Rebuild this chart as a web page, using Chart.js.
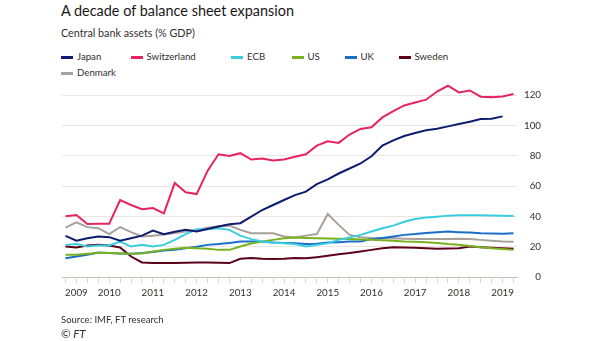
<!DOCTYPE html>
<html>
<head>
<meta charset="utf-8">
<script src="https://cdn.jsdelivr.net/npm/chart.js@4"></script>
<style>
	html, body { margin: 0; padding: 0; background: #fff; }
	body { width: 605px; height: 341px; position: relative; overflow: hidden; font-family: Lato, "Noto Sans", sans-serif; color: #33302e; }
	#wrap { position: absolute; left: 0; top: 0; width: 605px; height: 341px; }
	.txt { position: absolute; white-space: nowrap; line-height: 1; }
	#title { left: 61px; top: 4px; font-size: 16px; color: #1a1817; }
	#sub { left: 61px; top: 28px; font-size: 12px; color: #33302e; }
	.leg { position: absolute; line-height: 1; white-space: nowrap; color: #33302e; }
	.leg i { position: absolute; left: 0; width: 12px; height: 2.5px; }
	.leg span { position: absolute; left: 16px; top: 0; }
	#src { left: 61px; top: 315px; font-size: 11.5px; }
	#cr { left: 61px; top: 328px; font-size: 11.5px; font-style: italic; }
</style>
</head>
<body>
<div class="txt" id="title" data-w="234">A decade of balance sheet expansion</div>
<div class="txt" id="sub" data-w="134">Central bank assets (% GDP)</div>
<div id="legend"></div>
<div id="wrap"><canvas id="chart"></canvas></div>
<div class="txt" id="src" data-w="103">Source: IMF, FT research</div>
<div class="txt" id="cr">© FT</div>
<script>
// quarters from 2009 Q1 to 2019 Q2
var firstYear = 2009;
var quarters = [];
for (var q = 0; q < 42; q++) { quarters.push(q); }

var yTicks = [0, 20, 40, 60, 80, 100, 120];

var names = ['Japan', 'Switzerland', 'ECB', 'US', 'UK', 'Sweden', 'Denmark'];
var colors = ['#0d1c6e', '#e8245f', '#38cde1', '#78b21f', '#1b6fca', '#5c0318', '#a8a09a'];

var japan = [27.1, 23.9, 25.6, 26.7, 26.3, 24, 25.6, 27.3, 30.6, 28.3,
	29.8, 31.1, 30, 31.7, 33.3, 34.8, 35.5, 39.8, 44.2, 47.5,
	50.8, 54, 56.3, 61.3, 64.4, 68.3, 71.6, 74.9, 79.7, 86.7,
	90.2, 93, 95, 96.8, 97.9, 99.4, 100.9, 102.5, 104.2, 104.5, 106, null];
var switzerland = [40.1, 40.9, 35, 35.1, 35.2, 50.8, 47.5, 44.7, 45.5, 42,
	62, 55.9, 54.7, 70, 81, 79.9, 81.7, 77.5, 78.2, 76.9,
	77.5, 79.3, 81, 86.7, 89.6, 88.5, 94, 97.7, 98.8, 105.3,
	109.5, 113.2, 115.2, 117, 122.4, 126.2, 121.8, 123.1, 119, 118.7, 119.1, 120.7];
var ecb = [21.2, 21.7, 20.1, 20.8, 20.8, 23.4, 20.1, 21.2, 20.1, 21.2,
	24.5, 28.3, 31.5, 31.5, 32.2, 31.1, 27.3, 25, 23.4, 22.7,
	22.3, 21.7, 20.1, 21.2, 22.3, 24.5, 26, 27.8, 30, 32.2,
	33.9, 36.5, 38.3, 39.2, 39.8, 40.5, 40.7, 40.7, 40.7, 40.6, 40.5, 40.3];
var us = [14.7, 14.7, 15.3, 15.8, 15.8, 15.5, 15.3, 15.5, 16.8, 17.9,
	18.6, 19.3, 19, 18.6, 17.9, 17.9, 20.1, 22.1, 23.4, 24.5,
	25.6, 26, 25.8, 25.6, 25.4, 25.2, 25, 24.7, 24.5, 24.2,
	24, 23.4, 23.2, 22.9, 22.5, 21.8, 21.3, 20.5, 19.6, 19, 18.5, 17.9];
var uk = [12.3, 13.5, 14.7, 16.2, 15.8, 15.5, 15.3, 15.8, 16.5, 17.5,
	17.9, 19, 20, 21.2, 21.7, 22.5, 23.4, 23.4, 23.2, 22.7,
	22.5, 22.3, 21.7, 22, 22.7, 23, 23.4, 23.4, 25, 25.8,
	26.7, 27.8, 28.3, 29, 29.6, 30, 29.6, 29.3, 28.9, 28.7, 28.5, 28.9];
var sweden = [20.1, 19.5, 20.8, 21.2, 20.8, 19.5, 13.5, 9.6, 9.2, 9.2,
	9.2, 9.4, 9.6, 9.6, 9.4, 9.2, 12, 12.5, 12, 11.8,
	12, 12.5, 12.3, 13.1, 14, 15, 15.8, 16.8, 17.9, 19,
	19.7, 19.5, 19.3, 19, 18.6, 18.8, 19, 20.1, 19.7, 19.3, 19, 18.6];
var denmark = [32.6, 36.1, 32.9, 32.2, 28.3, 32.9, 29.6, 26.7, 27.3, 28,
	29, 30, 31, 32.5, 33.5, 33.9, 31.1, 28.9, 28.9, 28.9,
	26.7, 26, 27.3, 28.3, 41.6, 34.4, 27.8, 26.3, 25.8, 25.5,
	25.5, 25.3, 25, 25, 25, 25, 25.3, 25, 24.5, 24, 23.5, 23.2];

var series = [japan, switzerland, ecb, us, uk, sweden, denmark];

var fontFamily = 'Lato, "Noto Sans", sans-serif';

// size a font so a sample string gets the width seen in the original
function fitSize(text, target, style) {
	var c = document.createElement('canvas').getContext('2d');
	c.font = (style || '') + ' 100px ' + fontFamily;
	return 100 * target / c.measureText(text).width;
}

document.querySelectorAll('[data-w]').forEach(function (el) {
	el.style.fontSize = fitSize(el.textContent, +el.getAttribute('data-w')).toFixed(2) + 'px';
});

// legend (html, placed like the original)
var legendX = [61, 130.5, 231, 291.5, 344.5, 398.5, 61];
var legendRow = [0, 0, 0, 0, 0, 0, 1];
var legendSize = fitSize('Switzerland', 49.3);
var legendEl = document.getElementById('legend');
names.forEach(function (n, i) {
	var d = document.createElement('div');
	d.className = 'leg';
	d.style.fontSize = legendSize.toFixed(2) + 'px';
	d.style.left = legendX[i] + 'px';
	d.style.top = (52 + legendRow[i] * 16) + 'px';
	d.innerHTML = '<i style="background:' + colors[i] + ';top:' + (legendSize * 0.45).toFixed(1) + 'px"></i><span>' + n + '</span>';
	legendEl.appendChild(d);
});

var tickFont = { family: fontFamily, size: Math.round(fitSize('2009', 22.7) * 10) / 10 };

new Chart(document.getElementById('chart'), {
	type: 'line',
	data: {
		datasets: series.map(function (s, i) {
			return {
				label: names[i],
				data: s.map(function (v, k) { return { x: quarters[k], y: v }; }),
				borderColor: colors[i],
				backgroundColor: colors[i],
				borderWidth: 2,
				pointRadius: 0,
				tension: 0,
				fill: false,
				spanGaps: false
			};
		})
	},
	options: {
		responsive: true,
		maintainAspectRatio: false,
		animation: false,
		events: [],
		layout: { padding: { left: 62, top: 80, right: 64, bottom: 34 } },
		plugins: { legend: { display: false }, title: { display: false }, tooltip: { enabled: false } },
		scales: {
			x: {
				type: 'linear',
				min: -0.32,
				max: 41.32,
				afterBuildTicks: function (scale) {
					scale.ticks = quarters.map(function (q) { return { value: q }; });
				},
				afterFit: function (scale) { scale.height = 30; },
				grid: { drawOnChartArea: false, drawTicks: true, tickLength: 6, color: '#dcd6d0' },
				border: { display: true, color: '#c8c1ba', width: 1 },
				ticks: {
					autoSkip: false,
					maxRotation: 0,
					padding: 4,
					color: '#33302e',
					font: tickFont,
					callback: function (value) {
						if (value === 1) { return String(firstYear); }
						if (value > 0 && value % 4 === 0) { return String(firstYear + value / 4); }
						return '';
					}
				}
			},
			y: {
				position: 'right',
				min: 0,
				max: 130,
				afterBuildTicks: function (scale) {
					scale.ticks = yTicks.map(function (v) { return { value: v }; });
				},
				afterFit: function (scale) { scale.width = 24; },
				grid: { drawTicks: false, color: '#ebe6e1', lineWidth: 1 },
				border: { display: false },
				ticks: {
					crossAlign: 'far',
					padding: 6,
					color: '#33302e',
					font: tickFont
				}
			}
		}
	}
});
</script>
</body>
</html>
